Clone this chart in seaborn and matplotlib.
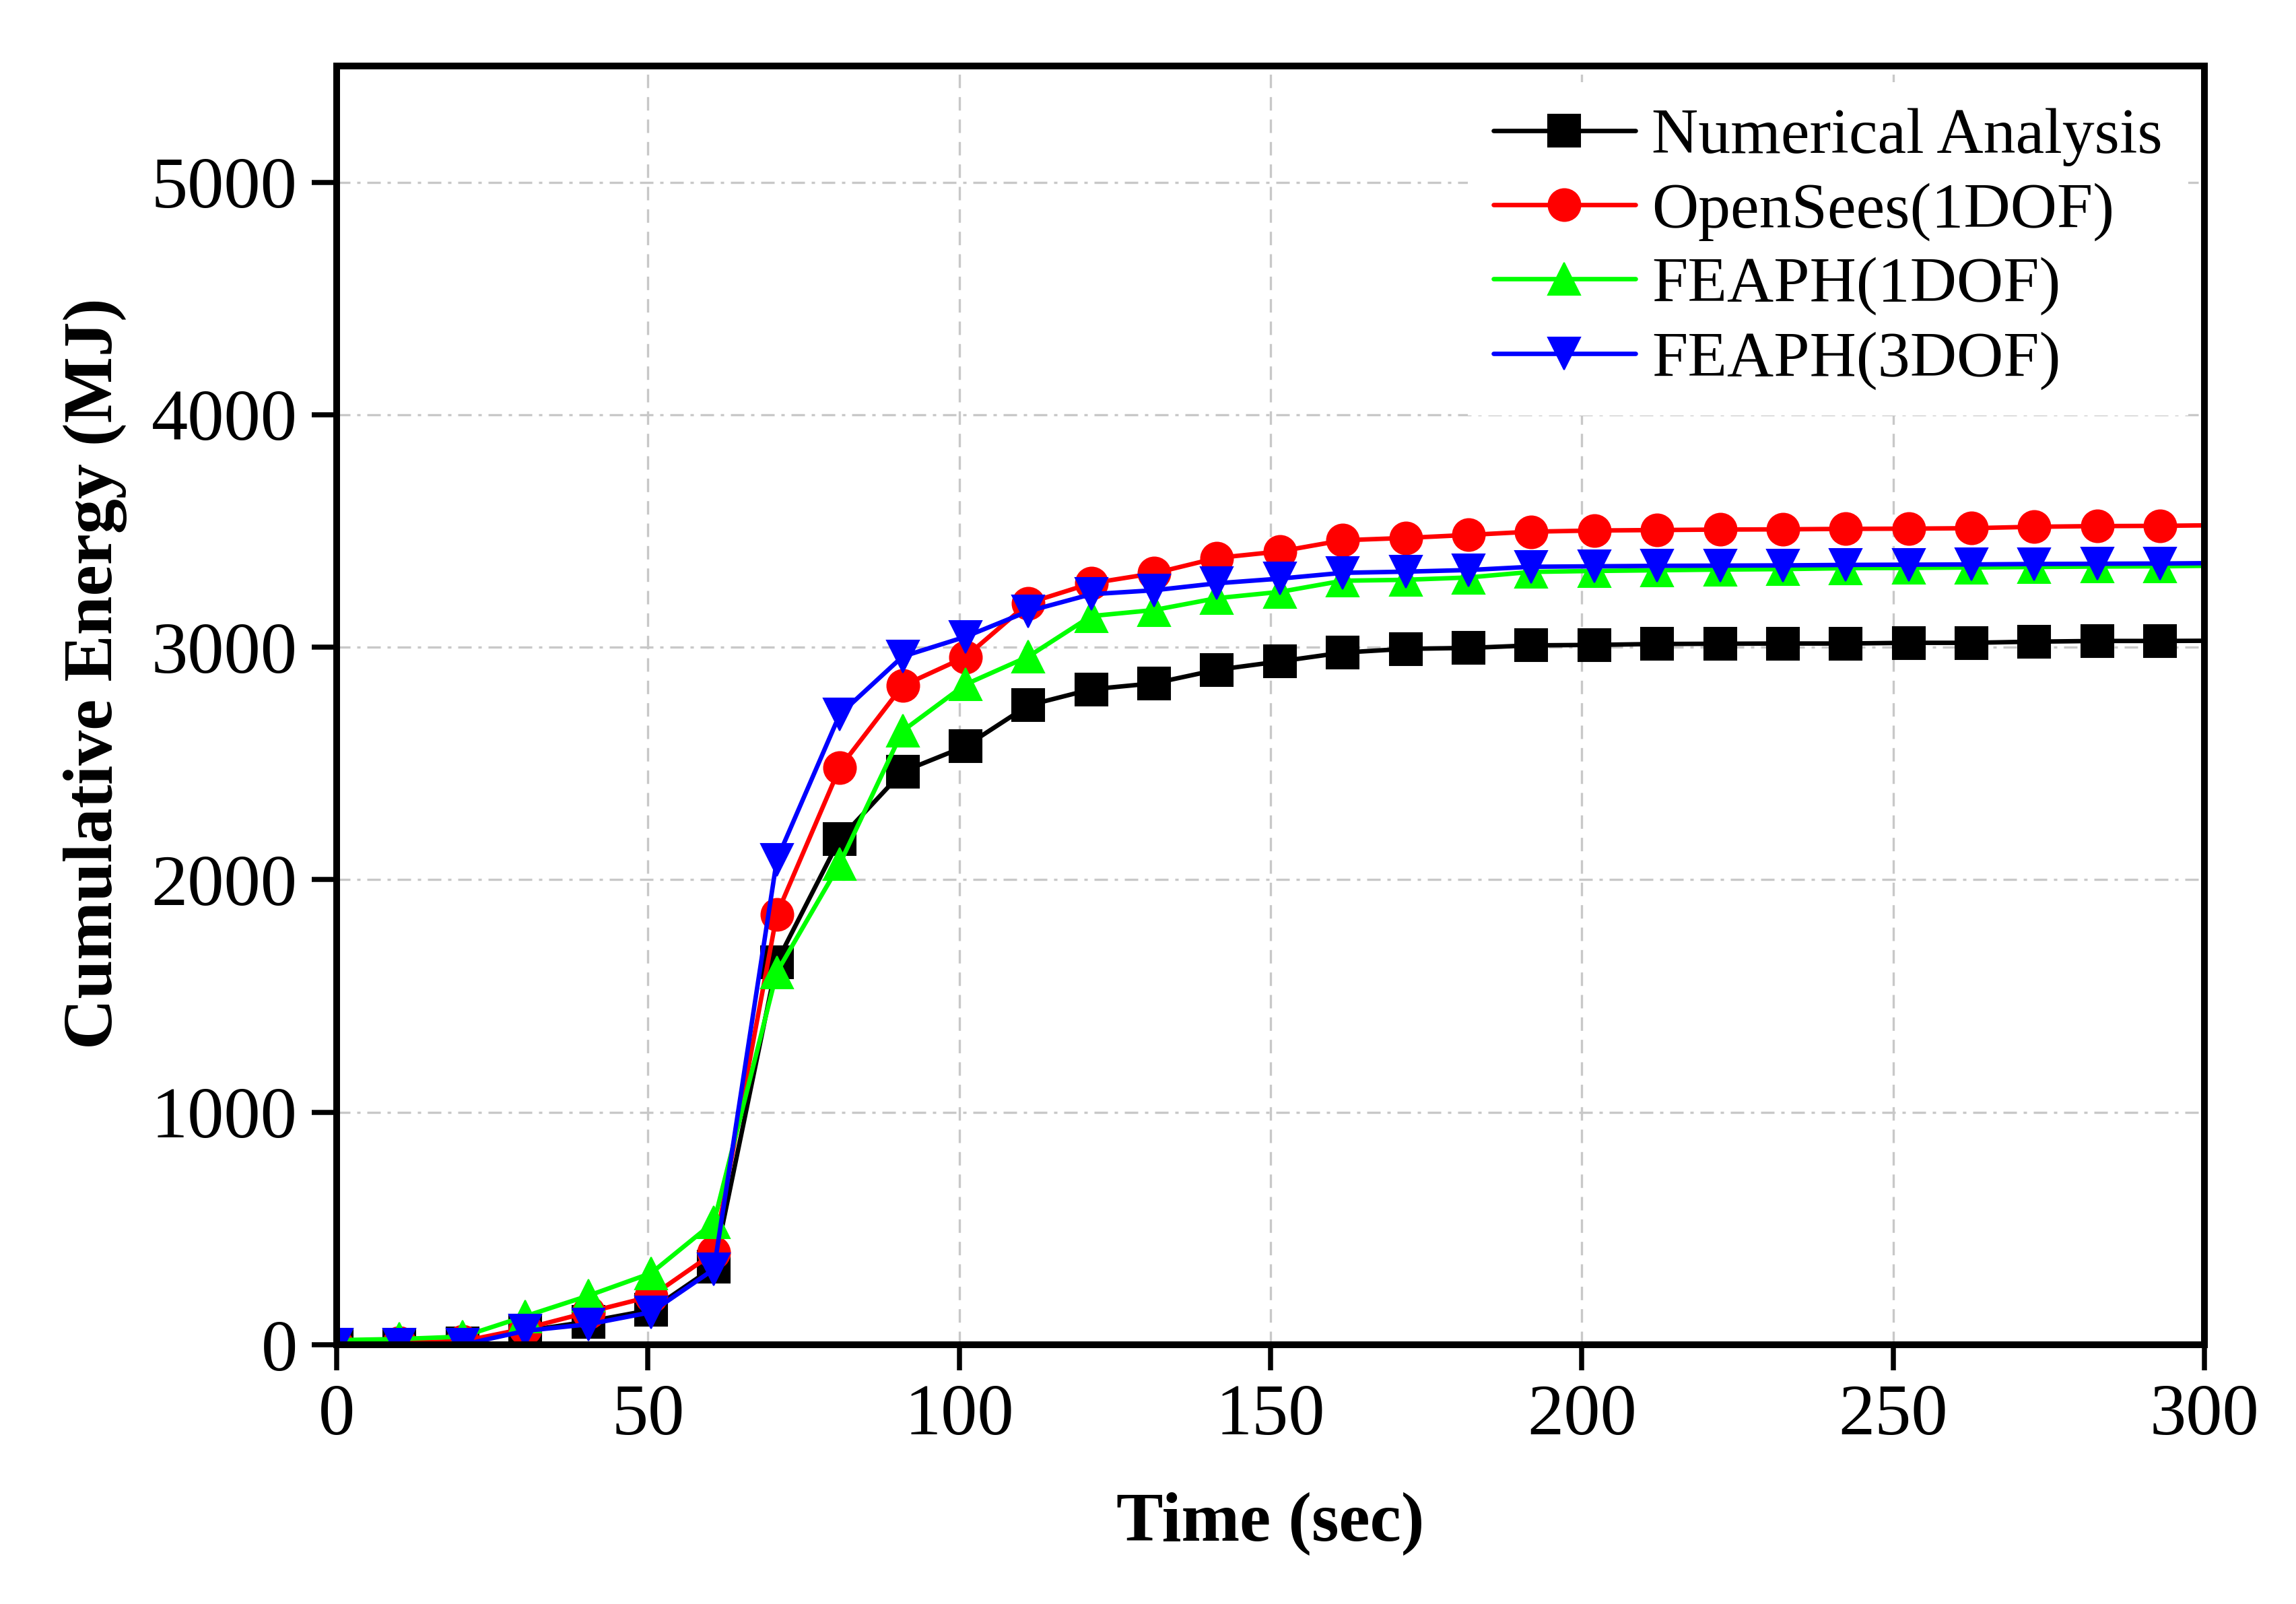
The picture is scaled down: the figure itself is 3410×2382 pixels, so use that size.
import numpy as np
import pandas as pd
import seaborn as sns
import matplotlib
matplotlib.use("Agg")
from matplotlib import pyplot as plt

# time steps of the output (sec)
time = [0, 10.1, 20.2, 30.3, 40.4, 50.5, 60.6, 70.7, 80.8, 90.9, 101.0,
        111.1, 121.2, 131.3, 141.4, 151.5, 161.6, 171.7, 181.8, 191.9, 202.0,
        212.1, 222.2, 232.3, 242.4, 252.5, 262.6, 272.7, 282.8, 292.9, 303.0]

numerical = [0, 0, 5, 60, 100, 150, 335, 1646, 2175, 2465, 2574,
             2750, 2819, 2845, 2903, 2939, 2977, 2993, 2997, 3008, 3010,
             3014, 3015, 3016, 3016, 3019, 3019, 3024, 3027, 3027, 3028]
opensees_1dof = [0, 10, 15, 70, 140, 208, 396, 1852, 2482, 2834, 2958,
                 3190, 3275, 3318, 3384, 3412, 3460, 3470, 3483, 3497, 3502,
                 3504, 3506, 3507, 3509, 3510, 3512, 3518, 3521, 3522, 3525]
feaph_1dof = [20, 25, 35, 123, 211, 308, 528, 1602, 2068, 2640, 2840,
              2960, 3134, 3160, 3211, 3238, 3286, 3290, 3300, 3324, 3328,
              3331, 3334, 3336, 3340, 3341, 3343, 3345, 3347, 3348, 3351]
feaph_3dof = [0, 0, 0, 60, 88, 140, 325, 2086, 2711, 2960, 3045,
              3155, 3228, 3245, 3275, 3295, 3320, 3325, 3332, 3346, 3348,
              3350, 3351, 3352, 3354, 3355, 3356, 3358, 3359, 3360, 3362]

series = [('Numerical Analysis', numerical, 'black', 's'),
          ('OpenSees(1DOF)', opensees_1dof, '#ff0000', 'o'),
          ('FEAPH(1DOF)', feaph_1dof, '#00ff00', '^'),
          ('FEAPH(3DOF)', feaph_3dof, '#0000ff', 'v')]

sns.set_style('ticks')
plt.rcParams['font.family'] = ['Liberation Serif', 'DejaVu Serif']
plt.rcParams['text.color'] = 'black'
plt.rcParams['axes.labelcolor'] = 'black'

fig = plt.figure(figsize=(3411 / 300, 2382 / 300), dpi=300)
ax = fig.add_axes([0.1466, 0.1616, 0.8132, 0.7973])

for name, vals, color, mk in series:
    sns.lineplot(x=time, y=vals, ax=ax, color=color, marker=mk, markersize=11.5,
                 markeredgecolor=color, markeredgewidth=0.5, linewidth=1.6,
                 label=name, sort=False)

ax.set_xlim(0, 300)
ax.set_ylim(0, 5500)
ax.set_xticks(np.arange(0, 301, 50))
ax.set_yticks(np.arange(0, 5001, 1000))

# grid: dashed verticals, dash-dot horizontals
for xv in np.arange(50, 300, 50):
    ax.axvline(xv, color='#c8c8c8', lw=0.8, ls=(0, (6, 4)), zorder=0)
for yv in np.arange(1000, 5001, 1000):
    ax.axhline(yv, color='#c8c8c8', lw=0.8, ls=(0, (6, 3, 1.5, 3)), zorder=0)

for sp in ax.spines.values():
    sp.set_linewidth(2.4)
    sp.set_color('black')
ax.tick_params(axis='both', direction='out', length=9, width=1.8,
               labelsize=26, pad=5, colors='black')

ax.set_xlabel('Time (sec)', fontsize=25, fontweight='bold', labelpad=15)
ax.set_ylabel('Cumulative Energy (MJ)', fontsize=25, fontweight='bold')
ax.yaxis.set_label_coords(-0.112, 0.525)

leg = ax.legend(loc='upper right', fontsize=23, frameon=True, fancybox=False,
                edgecolor='none', facecolor='white', framealpha=1,
                handlelength=2.2, handletextpad=0.25, labelspacing=0.24,
                borderaxespad=0.25, borderpad=0.4)
leg.set_zorder(5)

fig.savefig('out.png', dpi=300)
